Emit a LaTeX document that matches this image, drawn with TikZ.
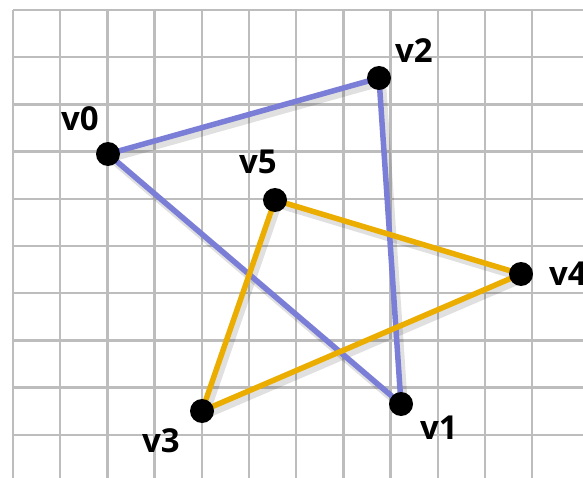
\documentclass[tikz,border=0pt]{standalone}
\usepackage{fontspec}
\setsansfont{Open Sans}
\usetikzlibrary{positioning, backgrounds}
\definecolor{gridline}{HTML}{BDBDBD}
\definecolor{edgeblue}{HTML}{7B7ED6}
\definecolor{edgegold}{HTML}{EBAE00}
\tikzset{
  vertex/.style   = {circle, fill=black, inner sep=0pt, minimum size=24pt},
  vlabel/.style   = {font=\fontsize{33}{38}\selectfont\sffamily\bfseries, inner sep=0pt},
  gridrule/.style = {draw=gridline, line width=2.5pt},
  tri/.style      = {line width=5.5pt, line cap=round, line join=round},
  trishadow/.style= {tri, draw=black, opacity=0.12, line width=8pt,
                     transform canvas={shift={(3pt,-4pt)}}},
}

\begin{document}
\begin{tikzpicture}[x=1pt, y=-1pt]
  \useasboundingbox (0,0) rectangle (583,478);
  \clip (0,0) rectangle (583,478);

  % vertices
  \node[vertex] (v0) at (108,154) {};
  \node[vertex] (v1) at (401,404) {};
  \node[vertex] (v2) at (379,78) {};
  \node[vertex] (v3) at (202,411) {};
  \node[vertex] (v4) at (521,274) {};
  \node[vertex] (v5) at (275,200) {};

  % labels
  \node[vlabel] (l0) at (80,119) {v0};
  \node[vlabel] (l1) at (439,428) {v1};
  \node[vlabel] (l2) at (414,51) {v2};
  \node[vlabel] (l3) at (161,441) {v3};
  \node[vlabel, anchor=west] (l4) at (549,274) {v4};
  \node[vlabel] (l5) at (258,162) {v5};

  \begin{scope}[on background layer]
    % grid
    \foreach \k in {0,...,11}
      \draw[gridrule] ({13+47.2*\k},10) -- ({13+47.2*\k},478);
    \foreach \k in {0,...,10}
      \draw[gridrule] (13,{10+47.2*\k}) -- (583,{10+47.2*\k});

    % triangles
    \draw[trishadow] (v0.center) -- (v2.center) -- (v1.center) -- cycle;
    \draw[trishadow] (v5.center) -- (v4.center) -- (v3.center) -- cycle;
    \draw[tri, draw=edgeblue] (v0.center) -- (v2.center) -- (v1.center) -- cycle;
    \draw[tri, draw=edgegold] (v5.center) -- (v4.center) -- (v3.center) -- cycle;
  \end{scope}
\end{tikzpicture}
\end{document}
